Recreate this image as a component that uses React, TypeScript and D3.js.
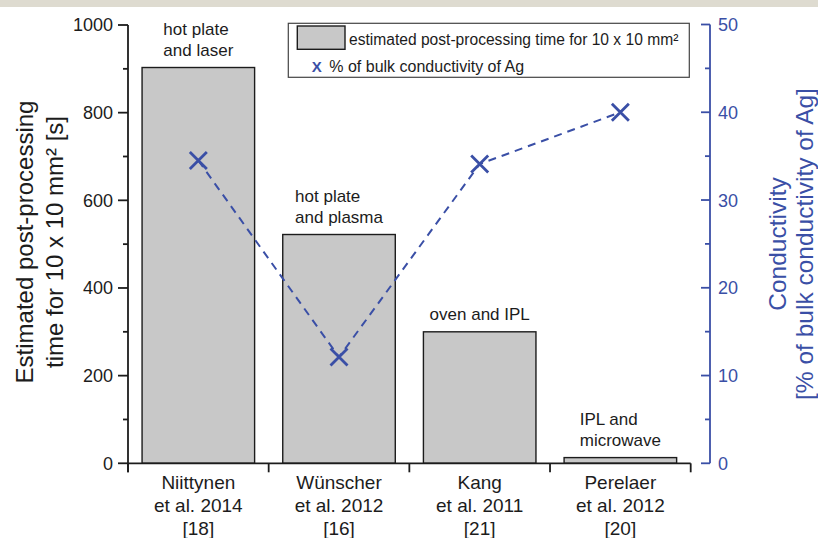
import React, { useEffect, useRef } from "react";
import * as d3 from "d3";

const categories = ["Niittynen", "Wünscher", "Kang", "Perelaer"];
const categoryLines = [
  ["Niittynen", "et al. 2014", "[18]"],
  ["Wünscher", "et al. 2012", "[16]"],
  ["Kang", "et al. 2011", "[21]"],
  ["Perelaer", "et al. 2012", "[20]"],
];
const timeValues = [903, 522, 300, 13];
const conductivityValues = [34.5, 12.1, 34.1, 40];
const processLabels = [
  ["hot plate", "and laser"],
  ["hot plate", "and plasma"],
  ["oven and IPL"],
  ["IPL and", "microwave"],
];
const leftTicks = [0, 200, 400, 600, 800, 1000];
const leftMinor = [100, 300, 500, 700, 900];
const rightTicks = [0, 10, 20, 30, 40, 50];
const rightMinor = [5, 15, 25, 35, 45];
const leftTitle = ["Estimated post-processing", "time for 10 x 10 mm² [s]"];
const rightTitle = ["Conductivity", "[% of bulk conductivity of Ag]"];
const legendItems = ["estimated post-processing time for 10 x 10 mm²", "% of bulk conductivity of Ag"];

const FONT = "'Liberation Sans', Arial, Helvetica, sans-serif";
const BLUE = "#3a4fa6";
const INK = "#1c1c1c";
const BAR = "#c8c8c8";

export default function App() {
  const ref = useRef<SVGSVGElement>(null);

  useEffect(() => {
    const svg = d3.select(ref.current);
    svg.selectAll("*").remove();
    svg.attr("font-family", FONT);

    svg.append("rect").attr("x", 0).attr("y", 0).attr("width", 818).attr("height", 7).attr("fill", "#dedbd0");

    const x = d3.scaleBand<string>().domain(categories).range([128, 690.7]).paddingInner(0.2).paddingOuter(0.1);
    const y = d3.scaleLinear().domain([0, 1000]).range([463.3, 25]);
    const y2 = d3.scaleLinear().domain([0, 50]).range([463.3, 24.5]);
    const cx = (c: string) => (x(c) as number) + x.bandwidth() / 2;

    // bars
    svg.append("g").selectAll("rect").data(categories).join("rect")
      .attr("x", (c) => x(c) as number)
      .attr("y", (c, i) => y(timeValues[i]))
      .attr("width", x.bandwidth())
      .attr("height", (c, i) => y(0) - y(timeValues[i]))
      .attr("fill", BAR).attr("stroke", INK).attr("stroke-width", 1.4);

    // annotations above bars (left-aligned block centered over bar)
    categories.forEach((c, i) => {
      const lines = processLabels[i];
      const g = svg.append("g");
      const t = g.append("text").attr("font-size", 17).attr("fill", INK);
      const base = y(timeValues[i]) - 12;
      lines.forEach((l, k) => {
        t.append("tspan").attr("x", 0).attr("y", base - (lines.length - 1 - k) * 21).text(l);
      });
      let maxW = 0;
      t.selectAll<SVGTSpanElement, unknown>("tspan").each(function () {
        maxW = Math.max(maxW, this.getComputedTextLength());
      });
      g.attr("transform", `translate(${cx(c) - maxW / 2},0)`);
    });

    // left axis
    const la = svg.append("g").attr("stroke", INK).attr("stroke-width", 1.8);
    la.append("line").attr("x1", 128).attr("x2", 128).attr("y1", y(1000)).attr("y2", y(0) + 9);
    leftTicks.forEach((v) => la.append("line").attr("x1", 118).attr("x2", 128).attr("y1", y(v)).attr("y2", y(v)));
    leftMinor.forEach((v) => la.append("line").attr("x1", 123).attr("x2", 128).attr("y1", y(v)).attr("y2", y(v)));
    svg.append("g").selectAll("text").data(leftTicks).join("text")
      .attr("x", 113).attr("y", (v) => y(v)).attr("dy", "0.36em")
      .attr("text-anchor", "end").attr("font-size", 18).attr("fill", INK)
      .text((v) => String(v));

    // bottom axis
    const ba = svg.append("g").attr("stroke", INK).attr("stroke-width", 1.8);
    ba.append("line").attr("x1", 128).attr("x2", 690.7).attr("y1", y(0)).attr("y2", y(0));
    const bounds = categories.map((c) => (x(c) as number) - x.step() * 0.1).concat([690.7]);
    bounds.forEach((b) => ba.append("line").attr("x1", b).attr("x2", b).attr("y1", y(0)).attr("y2", y(0) + 9));
    categories.forEach((c, i) => {
      const t = svg.append("text").attr("text-anchor", "middle").attr("font-size", 19).attr("fill", INK);
      categoryLines[i].forEach((l, k) => {
        t.append("tspan").attr("x", cx(c)).attr("y", 489 + k * 23).text(l);
      });
    });

    // right axis
    const ra = svg.append("g").attr("stroke", BLUE).attr("stroke-width", 1.8);
    ra.append("line").attr("x1", 710).attr("x2", 710).attr("y1", y2(50)).attr("y2", y2(0));
    rightTicks.forEach((v) => ra.append("line").attr("x1", 701).attr("x2", 710).attr("y1", y2(v)).attr("y2", y2(v)));
    rightMinor.forEach((v) => ra.append("line").attr("x1", 705).attr("x2", 710).attr("y1", y2(v)).attr("y2", y2(v)));
    svg.append("g").selectAll("text").data(rightTicks).join("text")
      .attr("x", 718).attr("y", (v) => y2(v)).attr("dy", "0.36em")
      .attr("text-anchor", "start").attr("font-size", 18).attr("fill", BLUE)
      .text((v) => String(v));

    // titles
    leftTitle.forEach((l, k) => {
      svg.append("text").attr("transform", `translate(${33 + k * 30},242) rotate(-90)`)
        .attr("text-anchor", "middle").attr("font-size", 24).attr("fill", INK).text(l);
    });
    rightTitle.forEach((l, k) => {
      svg.append("text").attr("transform", `translate(${786 + k * 27},244) rotate(-90)`)
        .attr("text-anchor", "middle").attr("font-size", 24.5).attr("fill", BLUE).text(l);
    });

    // conductivity line
    const line = d3.line<number>().x((d, i) => cx(categories[i])).y((d) => y2(d));
    svg.append("path").datum(conductivityValues).attr("d", line)
      .attr("fill", "none").attr("stroke", BLUE).attr("stroke-width", 2).attr("stroke-dasharray", "8,6");
    const s = 8.5;
    svg.append("g").selectAll("path").data(conductivityValues).join("path")
      .attr("d", (d, i) => {
        const px = cx(categories[i]);
        const py = y2(d);
        return `M${px - s},${py - s}L${px + s},${py + s}M${px - s},${py + s}L${px + s},${py - s}`;
      })
      .attr("stroke", BLUE).attr("stroke-width", 2.8).attr("fill", "none");

    // legend
    const lg = svg.append("g");
    lg.append("rect").attr("x", 288.3).attr("y", 23.3).attr("width", 401).attr("height", 54)
      .attr("fill", "#fff").attr("stroke", "#444").attr("stroke-width", 1.2);
    lg.append("rect").attr("x", 297.3).attr("y", 26).attr("width", 47.7).attr("height", 23.3)
      .attr("fill", BAR).attr("stroke", INK).attr("stroke-width", 1.4);
    lg.append("text").attr("x", 349).attr("y", 45).attr("font-size", 15.6).attr("fill", INK).text(legendItems[0]);
    lg.append("text").attr("x", 316.7).attr("y", 72).attr("text-anchor", "middle")
      .attr("font-size", 15).attr("font-weight", "bold").attr("fill", BLUE).text("X");
    lg.append("text").attr("x", 329.3).attr("y", 71.8).attr("font-size", 16).attr("fill", INK).text(legendItems[1]);
  }, []);

  return (
    <svg
      ref={ref}
      width={818}
      height={538}
      style={{ position: "absolute", left: 0, top: 0, background: "#fff" }}
    />
  );
}
